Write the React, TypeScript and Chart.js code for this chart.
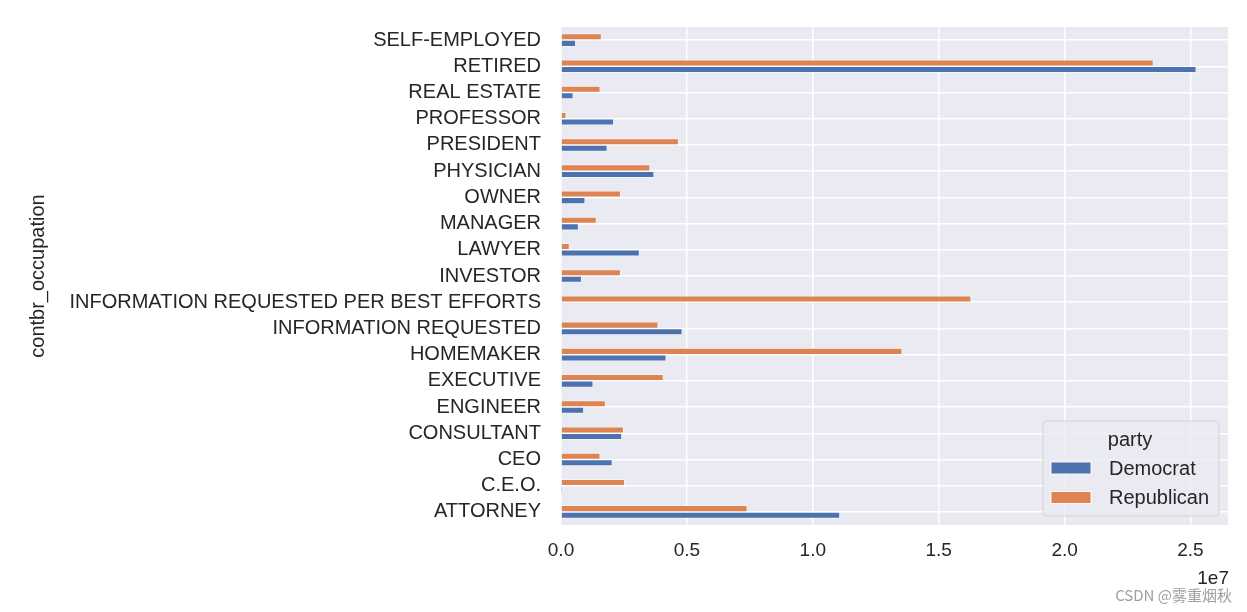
import React, { useEffect, useRef } from "react";
import { Chart, registerables } from "chart.js";

Chart.register(...registerables);

// Categories in pandas order (first = bottom of the chart)
const occupations = [
  "ATTORNEY",
  "C.E.O.",
  "CEO",
  "CONSULTANT",
  "ENGINEER",
  "EXECUTIVE",
  "HOMEMAKER",
  "INFORMATION REQUESTED",
  "INFORMATION REQUESTED PER BEST EFFORTS",
  "INVESTOR",
  "LAWYER",
  "MANAGER",
  "OWNER",
  "PHYSICIAN",
  "PRESIDENT",
  "PROFESSOR",
  "REAL ESTATE",
  "RETIRED",
  "SELF-EMPLOYED",
];

const democrat = [
  11080000, 1690, 2040000, 2420000, 910000, 1280000, 4180000, 4820000, 0,
  820000, 3120000, 700000, 960000, 3700000, 1840000, 2100000, 490000,
  25230000, 590000,
];

const republican = [
  7400000, 2530000, 1560000, 2490000, 1770000, 4070000, 13550000, 3860000,
  16290000, 2370000, 340000, 1410000, 2370000, 3540000, 4670000, 210000,
  1560000, 23530000, 1610000,
];

const xMax = 26490000;
const xTickValues = [0, 5000000, 10000000, 15000000, 20000000, 25000000];
const offsetText = "1e7";
const legendTitle = "party";
const watermark = "CSDN @雾重烟秋";

const FONT = '"Liberation Sans", Arial, sans-serif';
const TEXT = "#262626";
const DEM_COLOR = "#4C72B0";
const REP_COLOR = "#DD8452";

const snsPlugin = {
  id: "snsStyle",
  beforeDraw(chart: any) {
    const { ctx, chartArea: a } = chart;
    ctx.save();
    ctx.fillStyle = "#EAEAF2";
    ctx.fillRect(a.left, a.top, a.right - a.left, a.bottom - a.top);
    ctx.restore();
  },
  afterDraw(chart: any) {
    const { ctx, chartArea: a } = chart;
    ctx.save();
    // legend box
    const w = 176;
    const h = 95;
    const right = a.right - 9;
    const bottom = a.bottom - 9;
    const left = right - w;
    const top = bottom - h;
    ctx.beginPath();
    ctx.roundRect(left, top, w, h, 4);
    ctx.fillStyle = "rgba(234,234,242,0.8)";
    ctx.fill();
    ctx.strokeStyle = "#d2d2d6";
    ctx.lineWidth = 1;
    ctx.stroke();

    ctx.fillStyle = TEXT;
    ctx.font = `20px ${FONT}`;
    ctx.textAlign = "center";
    ctx.textBaseline = "middle";
    ctx.fillText(legendTitle, left + 87, top + 19);

    const ds = [...chart.data.datasets].reverse();
    ds.forEach((d: any, i: number) => {
      const cy = top + 47 + i * 29.5;
      ctx.fillStyle = d.backgroundColor;
      ctx.fillRect(left + 8, cy - 6, 40, 12);
      ctx.strokeStyle = "rgba(255,255,255,0.9)";
      ctx.lineWidth = 1;
      ctx.strokeRect(left + 8, cy - 6, 40, 12);
      ctx.fillStyle = TEXT;
      ctx.textAlign = "left";
      ctx.fillText(d.label, left + 66, cy + 1);
    });

    // offset text
    ctx.fillStyle = TEXT;
    ctx.font = `19px ${FONT}`;
    ctx.textAlign = "right";
    ctx.textBaseline = "middle";
    ctx.fillText(offsetText, a.right + 1, a.bottom + 54);

    // watermark
    ctx.fillStyle = "rgba(150,150,150,0.9)";
    ctx.font = `15px "Noto Sans CJK SC", ${FONT}`;
    ctx.textAlign = "right";
    ctx.fillText(watermark, a.right + 4, a.bottom + 70);
    ctx.restore();
  },
};

export default function App() {
  const ref = useRef<HTMLCanvasElement>(null);

  useEffect(() => {
    const labels = [...occupations].reverse();
    const demData = [...democrat].reverse();
    const repData = [...republican].reverse();
    const chart = new Chart(ref.current!, {
      type: "bar",
      data: {
        labels,
        datasets: [
          {
            label: "Republican",
            data: repData,
            backgroundColor: REP_COLOR,
            borderColor: "rgba(255,255,255,0.8)",
            borderWidth: 0.75,
            categoryPercentage: 0.5,
            barPercentage: 1,
          },
          {
            label: "Democrat",
            data: demData,
            backgroundColor: DEM_COLOR,
            borderColor: "rgba(255,255,255,0.8)",
            borderWidth: 0.75,
            categoryPercentage: 0.5,
            barPercentage: 1,
          },
        ],
      },
      options: {
        indexAxis: "y",
        animation: false,
        responsive: true,
        maintainAspectRatio: false,
        layout: { padding: { left: 14, right: 11, top: 19, bottom: 19 } },
        plugins: {
          legend: { display: false },
          tooltip: { enabled: false },
        },
        scales: {
          x: {
            type: "linear",
            min: 0,
            max: xMax,
            border: { display: false },
            grid: { color: "#ffffff", lineWidth: 1.5, drawTicks: false },
            ticks: {
              padding: 14,
              color: TEXT,
              font: { family: FONT, size: 19 },
              callback: (v: any) => (Number(v) / 1e7).toFixed(1),
            },
            afterBuildTicks: (s: any) => {
              s.ticks = xTickValues.map((v) => ({ value: v }));
            },
            afterFit: (s: any) => {
              s.height = 60;
              s.paddingLeft = 0;
              s.paddingRight = 0;
            },
          },
          y: {
            border: { display: false },
            grid: {
              color: "#ffffff",
              lineWidth: 1.5,
              drawTicks: false,
              offset: false,
            },
            ticks: {
              padding: 20,
              color: TEXT,
              autoSkip: false,
              font: { family: FONT, size: 20 },
            },
            title: {
              display: true,
              text: "contbr_occupation",
              color: TEXT,
              font: { family: FONT, size: 20 },
            },
            afterFit: (s: any) => {
              s.width = 539;
              s.paddingTop = 0;
              s.paddingBottom = 0;
            },
          },
        },
      },
      plugins: [snsPlugin],
    });
    return () => chart.destroy();
  }, []);

  return (
    <div style={{ width: 1231, height: 596, position: "relative" }}>
      <canvas ref={ref} />
    </div>
  );
}
